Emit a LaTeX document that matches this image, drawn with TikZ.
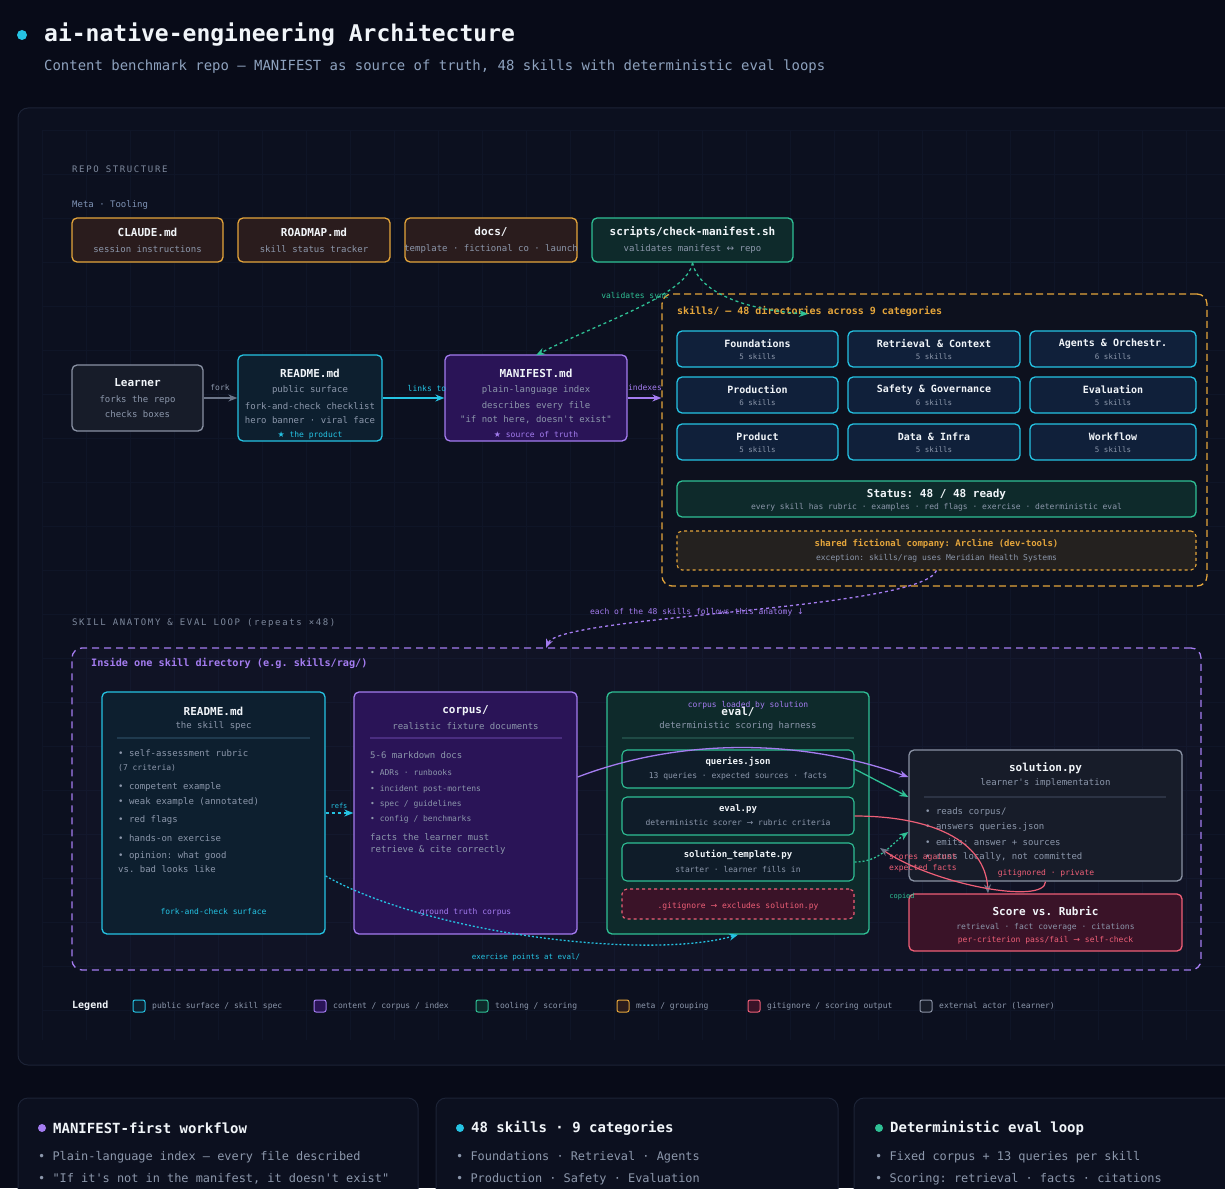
\documentclass[tikz,border=0pt]{standalone}
\usepackage{fontspec}
\setmonofont{DejaVu Sans Mono}
\renewcommand{\familydefault}{\ttdefault}
\newfontfamily\symf{DejaVu Sans}
\newfontfamily\spacedf{DejaVu Sans Mono}[LetterSpace=18.0]
\usetikzlibrary{arrows.meta,calc}
\newcommand\fsz[2]{\fontsize{#1pt}{#2pt}\selectfont}
\definecolor{bgc}{HTML}{080B18}
\definecolor{panelc}{HTML}{0C101F}
\definecolor{panelb}{HTML}{1C2336}
\definecolor{gridc}{HTML}{0F1527}
\definecolor{whitec}{HTML}{F1F5F9}
\definecolor{grayt}{HTML}{8C97AB}
\definecolor{subc}{HTML}{8EA2BE}
\definecolor{secc}{HTML}{7D889C}
\definecolor{metac}{HTML}{7F93B5}
\definecolor{cyanc}{HTML}{25C3E3}
\definecolor{cyanf}{HTML}{0D1F2F}
\definecolor{purc}{HTML}{A47CF0}
\definecolor{purf}{HTML}{2A1457}
\definecolor{grnc}{HTML}{2FC095}
\definecolor{grnf}{HTML}{0E2A2B}
\definecolor{innf}{HTML}{0F1C29}
\definecolor{orc}{HTML}{E4A53B}
\definecolor{orf}{HTML}{2A1C1D}
\definecolor{redc}{HTML}{EE5F77}
\definecolor{redf}{HTML}{3A1328}
\definecolor{gryc}{HTML}{8A92A4}
\definecolor{gryf}{HTML}{171C29}
\definecolor{cellf}{HTML}{10203A}
\definecolor{arrg}{HTML}{6B7488}
\definecolor{grpf}{HTML}{0D111E}
\definecolor{compf}{HTML}{24211F}
\definecolor{divc}{HTML}{1F3A4E}
\definecolor{divp}{HTML}{4A2D80}
\definecolor{divg}{HTML}{1F4A45}
\definecolor{divs}{HTML}{2C3344}
\newcommand\bx[6]{\node[#6, minimum width={(#4-#2)*1pt}, minimum height={(#5-#3)*1pt}] (#1) at ({(#2+#4)/2},{(#3+#5)/2}) {};}
\newcommand\cell[7]{%
  \bx{#1}{#2}{#3}{#4}{#5}{cellb}
  \node[celltitle] (#1-t) at ({(#2+#4)/2},{#3+13}) {#6};
  \node[cellsub] (#1-s) at ({(#2+#4)/2},{#3+26}) {#7};}
\tikzset{
 box/.style={draw, rounded corners=5pt, line width=1.3pt, inner sep=0pt},
 metab/.style={box, draw=orc, fill=orf},
 toolb/.style={box, draw=grnc, fill=grnf},
 innb/.style={box, draw=grnc, fill=innf, line width=1.1pt},
 pubb/.style={box, draw=cyanc, fill=cyanf},
 conb/.style={box, draw=purc, fill=purf},
 actb/.style={box, draw=gryc, fill=gryf},
 cellb/.style={box, draw=cyanc, fill=cellf},
 grpb/.style={box, draw=orc, fill=grpf, rounded corners=10pt, dash pattern=on 7pt off 4pt},
 compb/.style={box, draw=orc, fill=compf, dash pattern=on 3pt off 3pt, line width=1.1pt},
 anatb/.style={box, draw=purc, fill=purc, fill opacity=0.03, dash pattern=on 7pt off 5pt, rounded corners=10pt},
 gitb/.style={box, draw=redc, fill=redf, dash pattern=on 3pt off 3pt, line width=1.1pt},
 scoreb/.style={box, draw=redc, fill=redf},
 cardb/.style={box, draw=panelb, fill=panelc, rounded corners=10pt, line width=1pt},
 legsq/.style={draw, rounded corners=2pt, line width=1pt, minimum size=12pt, inner sep=0pt},
 ttl/.style={inner sep=0pt, font=\bfseries\fsz{11}{13}, text=whitec},
 ttls/.style={inner sep=0pt, font=\bfseries\fsz{9}{11}, text=whitec},
 celltitle/.style={inner sep=0pt, font=\bfseries\fsz{10}{12}, text=whitec},
 cellsub/.style={inner sep=0pt, font=\fsz{7.5}{9}, text=grayt},
 sub/.style={inner sep=0pt, font=\fsz{9}{11}, text=grayt},
 sm/.style={inner sep=0pt, font=\fsz{8}{10}, text=grayt},
 lw/.style={anchor=west},
 arr/.style={line width=1.3pt, -{Stealth[length=9pt,width=7pt]}},
 arrt/.style={line width=1.2pt, -{Stealth[length=9pt,width=7pt,color=arrg]}},
}
\begin{document}
\begin{tikzpicture}[x=1pt,y=-1pt]
\useasboundingbox (0,0) rectangle (1225,1188);
\fill[bgc] (0,0) rectangle (1225,1188);
% header
\fill[cyanc] (22,35) circle (5);
\node[lw, inner sep=0pt, font=\bfseries\fsz{23}{26}, text=whitec] (title) at (44,35) {ai-native-engineering Architecture};
\node[lw, inner sep=0pt, font=\fsz{13.95}{16}, text=subc] (subtitle) at (44,67) {Content benchmark repo — MANIFEST as source of truth, 48 skills with deterministic eval loops};
% panel
\bx{panel}{18}{108}{1250}{1065}{cardb}
\begin{scope}
\clip (42,130) rectangle (1225,1040);
\foreach \gx in {42,86,...,1225} \draw[gridc, line width=0.6pt] (\gx,130) -- (\gx,1040);
\foreach \gy in {130,174,...,1040} \draw[gridc, line width=0.6pt] (42,\gy) -- (1225,\gy);
\end{scope}
% section labels
\node[lw, inner sep=0pt, font=\spacedf\fsz{9}{11}, text=secc] (sec1) at (72,169) {REPO STRUCTURE};
\node[lw, inner sep=0pt, font=\fsz{9}{11}, text=metac] (metalbl) at (72,205) {Meta · Tooling};
% meta row
\bx{claude}{72}{218}{223}{262}{metab}
\node[ttl] (claude-t) at (147.5,232) {CLAUDE.md};
\node[sub] (claude-s) at (147.5,249) {session instructions};
\bx{roadmap}{238}{218}{390}{262}{metab}
\node[ttl] (roadmap-t) at (314,232) {ROADMAP.md};
\node[sub] (roadmap-s) at (314,249) {skill status tracker};
\bx{docs}{405}{218}{577}{262}{metab}
\node[ttl] (docs-t) at (491,232) {docs/};
\node[sub] (docs-s) at (491,249) {template · fictional co · launch};
\bx{scripts}{592}{218}{793}{262}{toolb}
\node[ttl] (scripts-t) at (692.5,232) {scripts/check-manifest.sh};
\node[sub] (scripts-s) at (692.5,249) {validates manifest {\symf ↔} repo};
% middle row
\bx{learner}{72}{365}{203}{431}{actb}
\node[ttl] (learner-t) at (137.5,383) {Learner};
\node[sub] (learner-s1) at (137.5,400) {forks the repo};
\node[sub] (learner-s2) at (137.5,414) {checks boxes};
\bx{readme}{238}{355}{382}{441}{pubb}
\node[ttl] (readme-t) at (310,373) {README.md};
\node[sub] (readme-s1) at (310,390) {public surface};
\node[sub] (readme-s2) at (310,406) {fork-and-check checklist};
\node[sub] (readme-s3) at (310,420) {hero banner · viral face};
\node[sm, text=cyanc] (readme-f) at (310,435) {{\symf ★} the product};
\bx{manifest}{445}{355}{627}{441}{conb}
\node[ttl] (manifest-t) at (536,373) {MANIFEST.md};
\node[sub] (manifest-s1) at (536,390) {plain-language index};
\node[sub] (manifest-s2) at (536,406) {describes every file};
\node[sub] (manifest-s3) at (536,420) {"if not here, doesn't exist"};
\node[sm, text=purc] (manifest-f) at (536,435) {{\symf ★} source of truth};
% skills group
\bx{skills}{662}{294}{1207}{586}{grpb}
\node[lw, inner sep=0pt, font=\bfseries\fsz{10}{12}, text=orc] (skills-t) at (677,311) {skills/ — 48 directories across 9 categories};
\cell{c1}{677}{331}{838}{367}{Foundations}{5 skills}
\cell{c2}{848}{331}{1020}{367}{Retrieval \& Context}{5 skills}
\cell{c3}{1030}{331}{1196}{367}{Agents \& Orchestr.}{6 skills}
\cell{c4}{677}{377}{838}{413}{Production}{6 skills}
\cell{c5}{848}{377}{1020}{413}{Safety \& Governance}{6 skills}
\cell{c6}{1030}{377}{1196}{413}{Evaluation}{5 skills}
\cell{c7}{677}{424}{838}{460}{Product}{5 skills}
\cell{c8}{848}{424}{1020}{460}{Data \& Infra}{5 skills}
\cell{c9}{1030}{424}{1196}{460}{Workflow}{5 skills}
\bx{status}{677}{481}{1196}{517}{toolb}
\node[ttl] (status-t) at (936.5,494) {Status: 48 / 48 ready};
\node[sm] (status-s) at (936.5,507) {every skill has rubric · examples · red flags · exercise · deterministic eval};
\bx{company}{677}{531}{1196}{570}{compb}
\node[inner sep=0pt, font=\bfseries\fsz{9}{11}, text=orc] (company-t) at (936.5,544) {shared fictional company: Arcline (dev-tools)};
\node[sm] (company-s) at (936.5,558) {exception: skills/rag uses Meridian Health Systems};
% top connectors
\draw[arr, draw=arrg] (learner) -- (readme);
\node[sm, text=grayt] (l-fork) at (220,388) {fork};
\draw[arr, draw=cyanc] (readme) -- (manifest);
\node[sm, text=cyanc] (l-links) at (427,388) {links to};
\draw[arr, draw=purc] (manifest.east) -- (manifest.east -| skills.west);
\node[sm, text=purc] (l-idx) at (645,388) {indexes};
\draw[arr, draw=grnc, dashed] (scripts.south) .. controls (688,295) and (600,322) .. ([yshift=-1pt]manifest.north);
\node[sm, text=grnc] (l-vs) at (635,296) {validates sync};
\coordinate (skin) at (808,314);
\draw[arr, draw=grnc, dashed] (scripts.south) .. controls (698,292) and (745,310) .. (skin);
% anatomy section
\node[lw, inner sep=0pt, font=\spacedf\fsz{9}{11}, text=secc] (sec2) at (72,623) {SKILL ANATOMY \& EVAL LOOP (repeats ×48)};
\bx{anat}{72}{648}{1201}{970}{anatb}
\node[lw, inner sep=0pt, font=\bfseries\fsz{10.2}{12}, text=purc] (anat-t) at (91,663) {Inside one skill directory (e.g. skills/rag/)};
\coordinate (anin) at (546,648);
\draw[arr, draw=purc, dashed] (company.south) .. controls (920,610) and (560,615) .. (anin);
\node[sm, text=purc] (l-each) at (697,612) {each of the 48 skills follows this anatomy {\symf ↓}};
% skill README
\bx{sreadme}{102}{692}{325}{934}{pubb}
\node[ttl] (sreadme-t) at (213.5,711) {README.md};
\node[sub] (sreadme-s) at (213.5,726) {the skill spec};
\draw[divc, line width=1.2pt] (117,738) -- (310,738);
\node[sub, lw] (sr1) at (118,753) {• self-assessment rubric};
\node[sm, lw] (sr2) at (118,768) {(7 criteria)};
\node[sub, lw] (sr3) at (118,787) {• competent example};
\node[sub, lw] (sr4) at (118,802) {• weak example (annotated)};
\node[sub, lw] (sr5) at (118,820) {• red flags};
\node[sub, lw] (sr6) at (118,838) {• hands-on exercise};
\node[sub, lw] (sr7) at (118,856) {• opinion: what good};
\node[sub, lw] (sr8) at (118,869) {vs. bad looks like};
\node[sm, text=cyanc] (sreadme-f) at (213.5,912) {fork-and-check surface};
% corpus
\bx{corpus}{354}{692}{577}{934}{conb}
\node[ttl] (corpus-t) at (465.5,711) {corpus/};
\node[sub] (corpus-s) at (465.5,726) {realistic fixture documents};
\draw[divp, line width=1.2pt] (370,738) -- (562,738);
\node[sub, lw] (co1) at (370,755) {5-6 markdown docs};
\node[sm, lw] (co2) at (370,773) {• ADRs · runbooks};
\node[sm, lw] (co3) at (370,789) {• incident post-mortens};
\node[sm, lw] (co4) at (370,804) {• spec / guidelines};
\node[sm, lw] (co5) at (370,819) {• config / benchmarks};
\node[sub, lw] (co6) at (370,837) {facts the learner must};
\node[sub, lw] (co7) at (370,850) {retrieve \& cite correctly};
\node[sm, text=purc] (corpus-f) at (465.5,912) {ground truth corpus};
% eval
\bx{eval}{607}{692}{869}{934}{toolb}
\node[ttl] (eval-t) at (738,712) {eval/};
\node[sub] (eval-s) at (738,726) {deterministic scoring harness};
\draw[divg, line width=1.2pt] (622,738) -- (854,738);
\bx{queries}{622}{750}{854}{788}{innb}
\node[ttls] (queries-t) at (738,762) {queries.json};
\node[sm] (queries-s) at (738,776) {13 queries · expected sources · facts};
\bx{evalpy}{622}{797}{854}{835}{innb}
\node[ttls] (evalpy-t) at (738,809) {eval.py};
\node[sm] (evalpy-s) at (738,823) {deterministic scorer {\symf →} rubric criteria};
\bx{template}{622}{843}{854}{881}{innb}
\node[ttls] (template-t) at (738,855) {solution\_template.py};
\node[sm] (template-s) at (738,869) {starter · learner fills in};
\bx{gitig}{622}{889}{854}{919}{gitb}
\node[sm, text=redc] (gitig-t) at (738,906) {.gitignore {\symf →} excludes solution.py};
% solution
\bx{solution}{909}{750}{1182}{881}{actb}
\node[ttl] (solution-t) at (1045.5,768) {solution.py};
\node[sub] (solution-s) at (1045.5,783) {learner's implementation};
\draw[divs, line width=1.2pt] (924,797) -- (1166,797);
\node[sub, lw] (so1) at (925,812) {• reads corpus/};
\node[sub, lw] (so2) at (925,827) {• answers queries.json};
\node[sub, lw] (so3) at (925,842) {• emits: answer + sources};
\node[sub, lw] (so4) at (925,857) {• runs locally, not committed};
\node[sm, text=redc] (solution-f) at (1046,873) {gitignored · private};
% score
\bx{score}{909}{894}{1182}{951}{scoreb}
\node[ttl] (score-t) at (1045.5,911) {Score vs. Rubric};
\node[sm] (score-s1) at (1045.5,927) {retrieval · fact coverage · citations};
\node[sm, text=redc] (score-s2) at (1045.5,940) {per-criterion pass/fail {\symf →} self-check};
% anatomy connectors
\draw[arr, draw=cyanc, dashed] (sreadme) -- (corpus);
\node[inner sep=0pt, font=\fsz{7}{9}, text=cyanc] (l-refs) at (339,806) {refs};
\draw[arr, draw=cyanc, dash pattern=on 2pt off 2pt] (sreadme.east |- 0,876) .. controls (430,935) and (650,960) .. (eval.south);
\node[inner sep=0pt, font=\fsz{7.5}{9}, text=cyanc] (l-ex) at (526,957) {exercise points at eval/};
\draw[arr, draw=purc] (corpus.east |- 0,777) .. controls (680,738) and (800,738) .. (solution.west |- 0,777);
\node[sm, text=purc] (l-corp) at (748,705) {corpus loaded by solution};
\draw[arr, draw=grnc] (queries.east) -- (solution.west |- 0,797);
\draw[arr, draw=grnc, dash pattern=on 2pt off 2pt] (template.east) .. controls (880,862) and (890,845) .. (solution.west |- 0,832);
\node[inner sep=0pt, font=\fsz{7}{9}, text=grnc] (l-copied) at (902,897) {copied};
\draw[arrt, draw=redc] (evalpy.east) .. controls (930,816) and (985,840) .. (score.north -| 988,0);
\coordinate (scin) at (880,848);
\draw[arrt, draw=redc] (solution.south) .. controls (1045,905) and (935,885) .. (scin);
\node[sm, lw, text=redc] (l-sc1) at (889,857) {scores against};
\node[sm, lw, text=redc] (l-sc2) at (889,868) {expected facts};
% legend
\node[lw, inner sep=0pt, font=\bfseries\fsz{10}{12}, text=whitec] (leg) at (72,1006) {Legend};
\node[legsq, draw=cyanc, fill=cyanf] (lg1) at (139,1006) {};
\node[sm, lw] (lg1t) at (152,1006) {public surface / skill spec};
\node[legsq, draw=purc, fill=purf] (lg2) at (320,1006) {};
\node[sm, lw] (lg2t) at (333,1006) {content / corpus / index};
\node[legsq, draw=grnc, fill=grnf] (lg3) at (482,1006) {};
\node[sm, lw] (lg3t) at (495,1006) {tooling / scoring};
\node[legsq, draw=orc, fill=orf] (lg4) at (623,1006) {};
\node[sm, lw] (lg4t) at (636,1006) {meta / grouping};
\node[legsq, draw=redc, fill=redf] (lg5) at (754,1006) {};
\node[sm, lw] (lg5t) at (767,1006) {gitignore / scoring output};
\node[legsq, draw=gryc, fill=gryf] (lg6) at (926,1006) {};
\node[sm, lw] (lg6t) at (939,1006) {external actor (learner)};
% bottom cards
\bx{card1}{18}{1098}{418}{1210}{cardb}
\bx{card2}{436}{1098}{838}{1210}{cardb}
\bx{card3}{854}{1098}{1250}{1210}{cardb}
\fill[purc] (42,1128) circle (4);
\node[lw, inner sep=0pt, font=\bfseries\fsz{14}{16}, text=whitec] (k1t) at (53,1128) {MANIFEST-first workflow};
\node[lw, inner sep=0pt, font=\fsz{11.9}{14}, text=grayt] (k1a) at (38,1157) {• Plain-language index — every file described};
\node[lw, inner sep=0pt, font=\fsz{11.9}{14}, text=grayt] (k1b) at (38,1179) {• "If it's not in the manifest, it doesn't exist"};
\fill[cyanc] (460,1128) circle (4);
\node[lw, inner sep=0pt, font=\bfseries\fsz{14}{16}, text=whitec] (k2t) at (471,1128) {48 skills · 9 categories};
\node[lw, inner sep=0pt, font=\fsz{11.9}{14}, text=grayt] (k2a) at (456,1157) {• Foundations · Retrieval · Agents};
\node[lw, inner sep=0pt, font=\fsz{11.9}{14}, text=grayt] (k2b) at (456,1179) {• Production · Safety · Evaluation};
\fill[grnc] (879,1128) circle (4);
\node[lw, inner sep=0pt, font=\bfseries\fsz{14}{16}, text=whitec] (k3t) at (890,1128) {Deterministic eval loop};
\node[lw, inner sep=0pt, font=\fsz{11.9}{14}, text=grayt] (k3a) at (875,1157) {• Fixed corpus + 13 queries per skill};
\node[lw, inner sep=0pt, font=\fsz{11.9}{14}, text=grayt] (k3b) at (875,1179) {• Scoring: retrieval · facts · citations};
\end{tikzpicture}
\end{document}
